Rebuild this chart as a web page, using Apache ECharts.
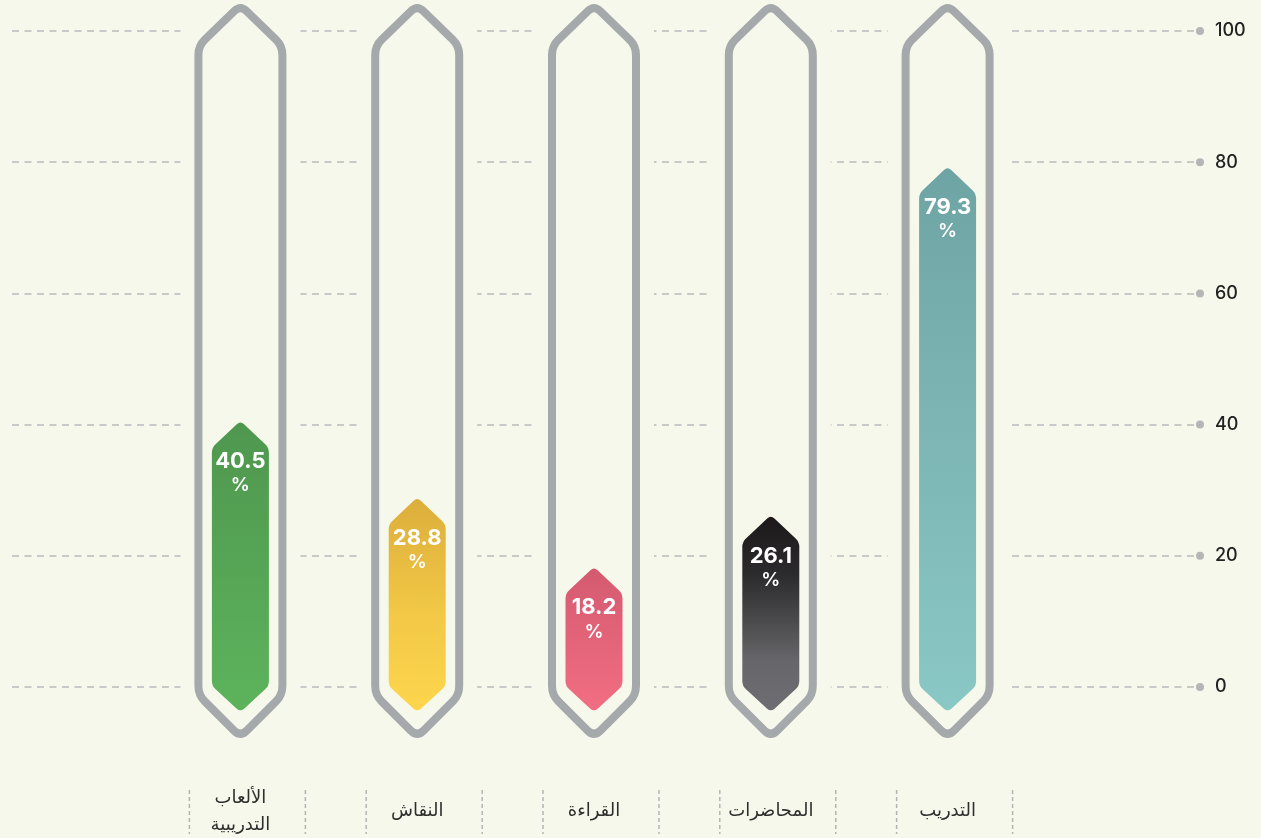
<!DOCTYPE html>
<html>
<head>
<meta charset="utf-8">
<title>chart</title>
<script src="https://cdn.jsdelivr.net/npm/echarts@6/dist/echarts.min.js"></script>
<style>
html, body { margin: 0; padding: 0; background: #f6f8eb; }
#chart { width: 1261px; height: 838px; }
</style>
</head>
<body>
<div id="chart"></div>
<script>
// 数据
var categories = ['التدريب', 'المحاضرات', 'القراءة', 'النقاش', 'الألعاب\nالتدريبية'];
var values = [79.3, 26.1, 18.2, 28.8, 40.5];
var yTicks = [0, 20, 40, 60, 80, 100];

// 颜色 (上 -> 下)
var barColors = [
	[['#6ea5a4', 0], ['#7db6b4', 0.5], ['#8ac8c5', 1]],
	[['#1d191b', 0], ['#2b2a2c', 0.3], ['#67676b', 0.75], ['#6e6e72', 1]],
	[['#d45a70', 0], ['#f26e82', 1]],
	[['#dcae3b', 0], ['#f2c846', 0.55], ['#fdd64d', 1]],
	[['#4f974f', 0], ['#5db35c', 1]]
];
var bg = '#f6f8eb';
var frameColor = '#a6a9ac';
var font = 'Inter, "Noto Sans", "DejaVu Sans", sans-serif';

function toward(p, q, r) {
	var dx = q[0] - p[0], dy = q[1] - p[1];
	var d = Math.sqrt(dx * dx + dy * dy);
	var t = Math.min(r, d / 2) / d;
	return [p[0] + dx * t, p[1] + dy * t];
}
function roundedPath(pts, r) {
	// 圆角多边形
	var n = pts.length, d = '';
	for (var k = 0; k < n; k++) {
		var p0 = pts[(k - 1 + n) % n], p1 = pts[k], p2 = pts[(k + 1) % n];
		var a = toward(p1, p0, r), b = toward(p1, p2, r);
		d += (k === 0 ? 'M' : 'L') + a[0] + ' ' + a[1] + ' Q' + p1[0] + ' ' + p1[1] + ' ' + b[0] + ' ' + b[1] + ' ';
	}
	return d + 'Z';
}
function hexPoints(cx, w, top, topShoulder, bottomShoulder, bottom) {
	return [[cx, top], [cx + w, topShoulder], [cx + w, bottomShoulder],
		[cx, bottom], [cx - w, bottomShoulder], [cx - w, topShoulder]];
}

function renderBar(params, api) {
	var idx = api.value(0);
	var v = api.value(1);
	var p0 = api.coord([idx, 0]);
	var pv = api.coord([idx, v]);
	var p100 = api.coord([idx, 100]);
	var cx = p0[0], y0 = p0[1], yv = pv[1], y100 = p100[1];
	var stops = barColors[params.dataIndex].map(function (s) {
		return { offset: s[1], color: s[0] };
	});
	return {
		type: 'group',
		children: [
			{ // 遮住网格线
				type: 'rect',
				shape: { x: cx - 60, y: y100 - 6, width: 120, height: y0 - y100 + 12 },
				style: { fill: bg }
			},
			{ // 外框
				type: 'path',
				shape: { pathData: roundedPath(hexPoints(cx, 42, y100 - 26, y100 + 15, y0 + 9, y0 + 51), 9) },
				style: { fill: 'none', stroke: frameColor, lineWidth: 8, lineJoin: 'round' }
			},
			{ // 数值柱
				type: 'path',
				shape: { pathData: roundedPath(hexPoints(cx, 28.5, yv, yv + 27, y0, y0 + 26), 5) },
				style: { fill: new echarts.graphic.LinearGradient(0, 0, 0, 1, stops) }
			},
			{
				type: 'text',
				style: {
					text: v.toFixed(1), x: cx, y: yv + 41, fill: '#fff',
					font: 'bold 22px ' + font, align: 'center', verticalAlign: 'middle'
				}
			},
			{
				type: 'text',
				style: {
					text: '%', x: cx, y: yv + 65, fill: '#fff',
					font: '600 19px ' + font, align: 'center', verticalAlign: 'middle'
				}
			},
			{ // 标签分隔线
				type: 'line',
				shape: { x1: cx - 51, y1: y0 + 104, x2: cx - 51, y2: y0 + 148 },
				style: { stroke: '#b3b5b5', lineWidth: 1.5, lineDash: [4, 3] }
			},
			{
				type: 'line',
				shape: { x1: cx + 65, y1: y0 + 104, x2: cx + 65, y2: y0 + 148 },
				style: { stroke: '#b3b5b5', lineWidth: 1.5, lineDash: [4, 3] }
			}
		]
	};
}

var chart = echarts.init(document.getElementById('chart'));
chart.setOption({
	backgroundColor: bg,
	animation: false,
	grid: [
		{ left: 12, right: 61, top: 31, bottom: 151 },
		{ left: 152, right: 225, top: 31, bottom: 151 }
	],
	xAxis: [
		{ gridIndex: 0, type: 'value', min: 0, max: 1, show: false },
		{
			gridIndex: 1,
			type: 'category',
			inverse: true,
			data: categories,
			axisLine: { show: false },
			axisTick: { show: false },
			axisLabel: {
				margin: 125,
				verticalAlign: 'middle',
				color: '#2e2e2e',
				fontSize: 18,
				lineHeight: 27,
				fontFamily: '"Noto Sans", "DejaVu Sans", sans-serif'
			}
		}
	],
	yAxis: [
		{
			gridIndex: 0,
			type: 'value',
			position: 'right',
			min: 0,
			max: 100,
			interval: 20,
			axisLine: { show: false },
			axisTick: { show: false },
			axisLabel: { margin: 15, color: '#222', fontSize: 18, fontWeight: 500, fontFamily: font },
			splitLine: { lineStyle: { color: '#b8baba', width: 1.5, type: [7, 5.5] } }
		},
		{ gridIndex: 1, type: 'value', min: 0, max: 100, show: false, splitLine: { show: false } }
	],
	series: [
		{
			type: 'scatter',
			xAxisIndex: 0,
			yAxisIndex: 0,
			symbolSize: 8,
			itemStyle: { color: '#a4a6a8' },
			data: yTicks.map(function (t) { return [1, t]; }),
			silent: true
		},
		{
			type: 'custom',
			xAxisIndex: 1,
			yAxisIndex: 1,
			clip: false,
			renderItem: renderBar,
			data: values.map(function (v, i) { return [i, v]; })
		}
	]
});
</script>
</body>
</html>
